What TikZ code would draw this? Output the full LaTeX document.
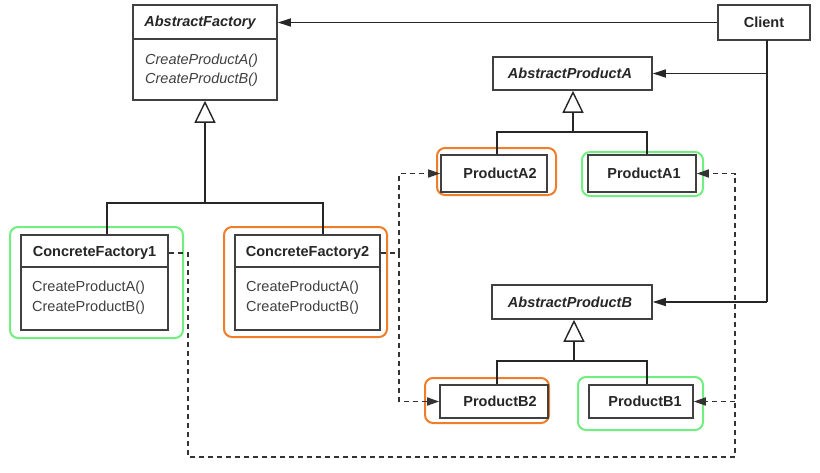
\documentclass[tikz,border=0pt]{standalone}
\usepackage{fontspec}
\setmainfont{Liberation Sans}
\usetikzlibrary{arrows.meta}
\definecolor{hlorange}{RGB}{240,125,42}
\definecolor{hlgreen}{RGB}{112,238,128}
\begin{document}
\begin{tikzpicture}[x=1pt,y=-1pt,
  every node/.style={font=\fontsize{14.5}{16}\selectfont, text=black!85},
  cls/.style={draw=black!75, line width=1.6pt, fill=white, inner sep=0pt},
  ttl/.style={font=\fontsize{14.5}{16}\selectfont\bfseries, inner sep=0pt},
  attl/.style={font=\fontsize{14.5}{16}\selectfont\bfseries\itshape, inner sep=0pt},
  meth/.style={anchor=west, inner sep=0pt, text=black!75},
  ameth/.style={anchor=west, inner sep=0pt, text=black!75, font=\fontsize{14.5}{16}\selectfont\itshape},
  hl/.style={draw=#1, line width=2pt, rounded corners=8pt, inner sep=0pt},
  assoc/.style={line width=1.4pt, draw=black!85, -{Triangle[length=13pt,width=8pt]}},
  plain/.style={line width=1.4pt, draw=black!85},
  inherit/.style={line width=1.4pt, draw=black!85, -{Triangle[open,length=22pt,width=21pt,fill=white]}},
  dep/.style={line width=1.6pt, draw=black!80, dash pattern=on 5pt off 4pt},
  deparrow/.style={dep, -{Triangle[length=12pt,width=8pt]}}
]
\useasboundingbox (0,0) rectangle (820,472);

% highlight frames behind the classes
\node[hl=hlgreen,  minimum width=173pt, minimum height=111pt] (hcf1) at (96.5,282.5) {};
\node[hl=hlorange, minimum width=163pt, minimum height=110pt] (hcf2) at (305.5,282) {};
\node[hl=hlorange, minimum width=119pt, minimum height=47pt] (ha2) at (496.5,171.5) {};
\node[hl=hlgreen,  minimum width=121pt, minimum height=44pt] (ha1) at (642.5,174) {};
\node[hl=hlorange, minimum width=124pt, minimum height=45pt] (hb2) at (487,400.5) {};
\node[hl=hlgreen,  minimum width=125pt, minimum height=53pt] (hb1) at (640.5,403.5) {};

% AbstractFactory
\node[cls, minimum width=144pt, minimum height=95pt] (af) at (205,52.5) {};
\node[attl] (aft) at (200,23) {AbstractFactory};
\draw[black!75, line width=1.6pt] (af.west |- 0,39) -- (af.east |- 0,39);
\node[ameth] (afa) at (145,61) {CreateProductA()};
\node[ameth] (afb) at (145,80) {CreateProductB()};

% Client
\node[cls, minimum width=92pt, minimum height=35pt] (client) at (764,22.5) {};
\node[ttl] (clientt) at (764,22.5) {Client};

% ConcreteFactory1
\node[cls, minimum width=147pt, minimum height=95pt] (cf1) at (94.5,282.5) {};
\node[ttl] (cf1t) at (94.5,253) {ConcreteFactory1};
\draw[black!75, line width=1.6pt] (cf1.west |- 0,267) -- (cf1.east |- 0,267);
\node[meth] (cf1a) at (32,288) {CreateProductA()};
\node[meth] (cf1b) at (32,308) {CreateProductB()};

% ConcreteFactory2
\node[cls, minimum width=145pt, minimum height=95pt] (cf2) at (307.5,282.5) {};
\node[ttl] (cf2t) at (307.5,253) {ConcreteFactory2};
\draw[black!75, line width=1.6pt] (cf2.west |- 0,267) -- (cf2.east |- 0,267);
\node[meth] (cf2a) at (246,288) {CreateProductA()};
\node[meth] (cf2b) at (246,308) {CreateProductB()};

% product hierarchy A
\node[cls, minimum width=159pt, minimum height=33pt] (apa) at (572.5,73.5) {};
\node[attl] (apat) at (570,73.5) {AbstractProductA};
\node[cls, minimum width=106pt, minimum height=37pt] (a2) at (494,173.5) {};
\node[ttl] (a2t) at (500,173.5) {ProductA2};
\node[cls, minimum width=108pt, minimum height=37pt] (a1) at (642,173.5) {};
\node[ttl] (a1t) at (644,173.5) {ProductA1};

% product hierarchy B
\node[cls, minimum width=160pt, minimum height=34pt] (apb) at (572,302) {};
\node[attl] (apbt) at (570,302) {AbstractProductB};
\node[cls, minimum width=108pt, minimum height=33pt] (b2) at (494,401.5) {};
\node[ttl] (b2t) at (500,401.5) {ProductB2};
\node[cls, minimum width=104pt, minimum height=33pt] (b1) at (641,401.5) {};
\node[ttl] (b1t) at (645,401.5) {ProductB1};

% junction points of the inheritance trees
\coordinate (afbar) at (205,203);
\coordinate (apabar) at (573,132);
\coordinate (apbbar) at (574,361);

% inheritance: factories
\draw[inherit] (afbar) -- (af.south);
\draw[plain] ([xshift=12.5pt]cf1.north) |- (afbar) -| ([xshift=15.5pt]cf2.north);

% inheritance: products A
\draw[inherit] (apabar) -- (apa.south -| apabar);
\draw[plain] ([xshift=3pt]a2.north) |- (apabar) -| ([xshift=5pt]a1.north);

% inheritance: products B
\draw[inherit] (apbbar) -- (apb.south -| apbbar);
\draw[plain] ([xshift=3pt]b2.north) |- (apbbar) -| ([xshift=6pt]b1.north);

% client associations
\draw[assoc] (client.west) -- (client.west -| af.east);
\coordinate (cdown) at (767,40);
\draw[plain] (cdown) -- (cdown |- apb.east);
\draw[assoc] (cdown |- apa.east) -- (apa.east);
\draw[assoc] (cdown |- apb.east) -- (apb.east);

% instantiation: ConcreteFactory1 -> ProductA1, ProductB1
\coordinate (d1) at (188,457);
\coordinate (d2) at (735,457);
\draw[deparrow] (cf1t -| cf1.east) -| (d1) -- (d2) |- (a1.east);
\draw[deparrow] (d2 |- b1.east) -- (b1.east);

% instantiation: ConcreteFactory2 -> ProductA2, ProductB2
\coordinate (d3) at (399,253);
\draw[dep] (cf2t -| cf2.east) -- (d3);
\draw[deparrow] (d3) |- (a2.west);
\draw[deparrow] (d3) |- (b2.west);
\end{tikzpicture}
\end{document}
